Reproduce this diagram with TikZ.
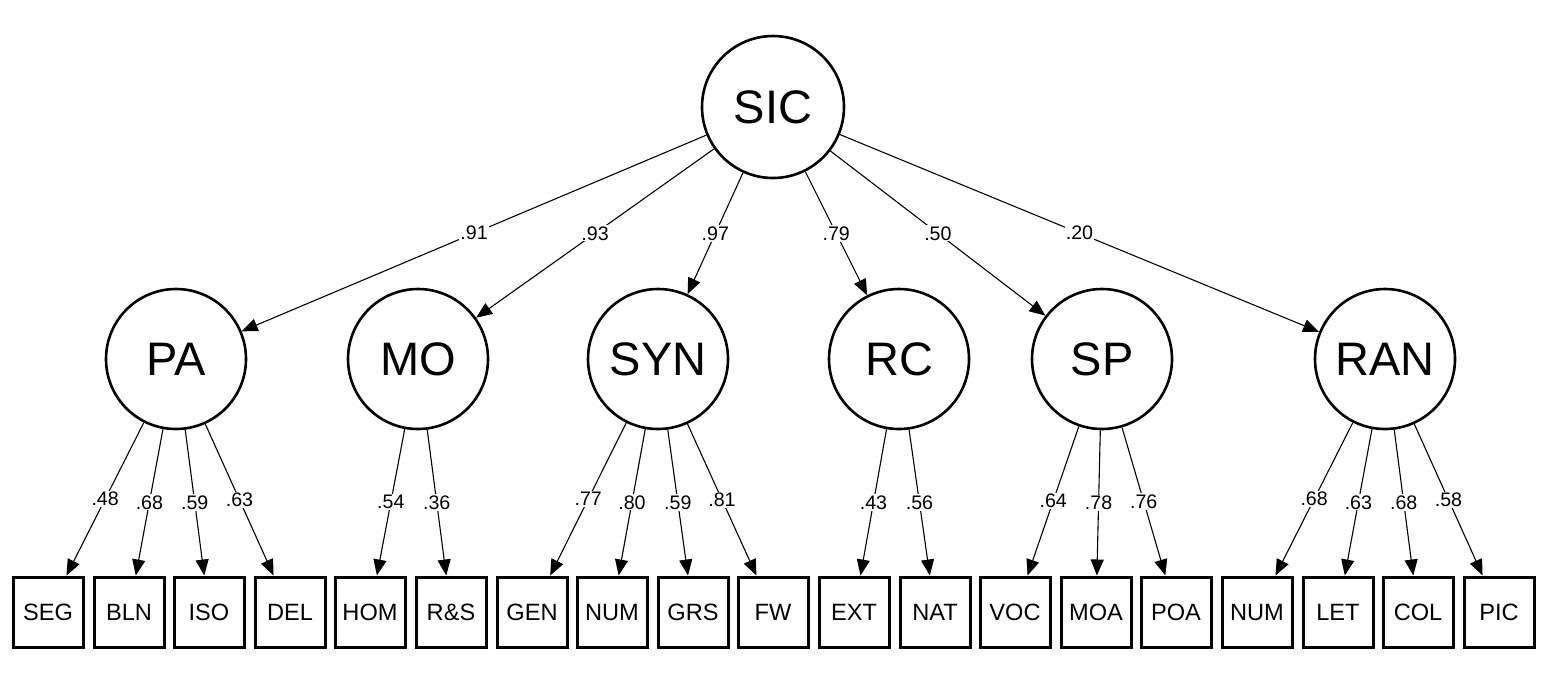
\documentclass[tikz,border=0pt]{standalone}
\usepackage{fontspec}
\setmainfont{Liberation Sans}
\usepackage{tikz}
\usetikzlibrary{arrows.meta, positioning}
\tikzset{
  latent/.style={circle, draw=black, fill=white, minimum size=70pt,
    inner sep=0pt, line width=1.3pt, font=\fontsize{23.5}{26}\selectfont},
  toplatent/.style={latent, minimum size=71pt},
  observed/.style={rectangle, draw=black, fill=white, minimum size=35pt,
    inner sep=0pt, line width=1.5pt, font=\fontsize{11.8}{13}\selectfont},
  arrow/.style={-{Triangle[length=8pt, width=6.5pt]}, line width=0.55pt, color=black},
  loading/.style={fill=white, inner sep=0.6pt, font=\fontsize{9.8}{10}\selectfont}
}

\begin{document}
\begin{tikzpicture}[x=0.5pt, y=-0.5pt]
  \useasboundingbox (0,0) rectangle (1547,693);

  % second-order factor
  \node[toplatent] (SIC) at (773,107) {SIC};

  % first-order factors
  \node[latent] (PA)  at (176,359)  {PA};
  \node[latent] (MO)  at (418,359)  {MO};
  \node[latent] (SYN) at (658,359)  {SYN};
  \node[latent] (RC)  at (899,359)  {RC};
  \node[latent] (SP)  at (1102,359) {SP};
  \node[latent] (RAN) at (1385,359) {RAN};

  % indicators
  \node[observed] (SEG)  at (48,612)   {SEG};
  \node[observed] (BLN)  at (129,612)  {BLN};
  \node[observed] (ISO)  at (209,612)  {ISO};
  \node[observed] (DEL)  at (290,612)  {DEL};
  \node[observed] (HOM)  at (370,612)  {HOM};
  \node[observed] (RS)   at (451,612)  {R\&S};
  \node[observed] (GEN)  at (532,612)  {GEN};
  \node[observed] (NUM)  at (612,612)  {NUM};
  \node[observed] (GRS)  at (693,612)  {GRS};
  \node[observed] (FW)   at (773,612)  {FW};
  \node[observed] (EXT)  at (854,612)  {EXT};
  \node[observed] (NAT)  at (935,612)  {NAT};
  \node[observed] (VOC)  at (1015,612) {VOC};
  \node[observed] (MOA)  at (1096,612) {MOA};
  \node[observed] (POA)  at (1176,612) {POA};
  \node[observed] (NUM2) at (1257,612) {NUM};
  \node[observed] (LET)  at (1338,612) {LET};
  \node[observed] (COL)  at (1418,612) {COL};
  \node[observed] (PIC)  at (1499,612) {PIC};

  \draw[arrow] (SIC) -- node[loading] {.91} (PA);
  \draw[arrow] (SIC) -- node[loading] {.93} (MO);
  \draw[arrow] (SIC) -- node[loading] {.97} (SYN);
  \draw[arrow] (SIC) -- node[loading] {.79} (RC);
  \draw[arrow] (SIC) -- node[loading] {.50} (SP);
  \draw[arrow] (SIC) -- node[loading] {.20} (RAN);

  \draw[arrow] (PA) -- node[loading] {.48} (SEG);
  \draw[arrow] (PA) -- node[loading] {.68} (BLN);
  \draw[arrow] (PA) -- node[loading] {.59} (ISO);
  \draw[arrow] (PA) -- node[loading] {.63} (DEL);

  \draw[arrow] (MO) -- node[loading] {.54} (HOM);
  \draw[arrow] (MO) -- node[loading] {.36} (RS);

  \draw[arrow] (SYN) -- node[loading] {.77} (GEN);
  \draw[arrow] (SYN) -- node[loading] {.80} (NUM);
  \draw[arrow] (SYN) -- node[loading] {.59} (GRS);
  \draw[arrow] (SYN) -- node[loading] {.81} (FW);

  \draw[arrow] (RC) -- node[loading] {.43} (EXT);
  \draw[arrow] (RC) -- node[loading] {.56} (NAT);

  \draw[arrow] (SP) -- node[loading] {.64} (VOC);
  \draw[arrow] (SP) -- node[loading] {.78} (MOA);
  \draw[arrow] (SP) -- node[loading] {.76} (POA);

  \draw[arrow] (RAN) -- node[loading] {.68} (NUM2);
  \draw[arrow] (RAN) -- node[loading] {.63} (LET);
  \draw[arrow] (RAN) -- node[loading] {.68} (COL);
  \draw[arrow] (RAN) -- node[loading] {.58} (PIC);
\end{tikzpicture}
\end{document}
